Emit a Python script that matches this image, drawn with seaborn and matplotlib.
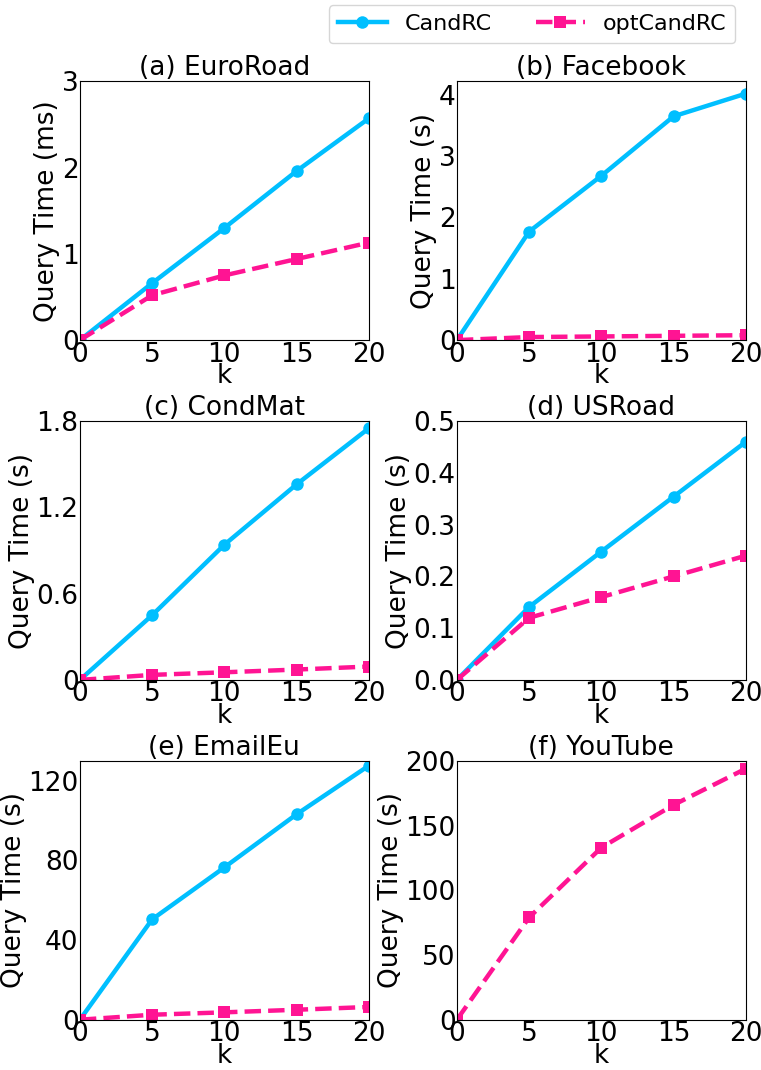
import pandas as pd
import matplotlib
matplotlib.use("Agg")
import matplotlib.pyplot as plt
import seaborn as sns

# Data
k = [0, 5, 10, 15, 20]

euroroad_cand = [0, 0.66, 1.30, 1.96, 2.57]
euroroad_opt = [0, 0.52, 0.75, 0.94, 1.13]
facebook_cand = [0, 1.77, 2.68, 3.65, 4.02]
facebook_opt = [0, 0.05, 0.06, 0.07, 0.08]
condmat_cand = [0, 0.45, 0.94, 1.36, 1.75]
condmat_opt = [0, 0.035, 0.053, 0.072, 0.093]
usroad_cand = [0, 0.141, 0.248, 0.354, 0.46]
usroad_opt = [0, 0.12, 0.16, 0.20, 0.24]
emaileu_cand = [0, 50.4, 76.5, 103.2, 127.6]
emaileu_opt = [0, 2.5, 3.7, 5.0, 6.4]
youtube_opt = [0, 79, 133, 166, 194]

titles = ["(a) EuroRoad", "(b) Facebook", "(c) CondMat",
          "(d) USRoad", "(e) EmailEu", "(f) YouTube"]
ylabels = ["Query Time (ms)", "Query Time (s)", "Query Time (s)",
           "Query Time (s)", "Query Time (s)", "Query Time (s)"]
cand_series = [euroroad_cand, facebook_cand, condmat_cand, usroad_cand, emaileu_cand, None]
opt_series = [euroroad_opt, facebook_opt, condmat_opt, usroad_opt, emaileu_opt, youtube_opt]

ylims = [(0, 3), (0, None), (0, 1.8), (0, 0.5), (0, 130), (0, 200)]
yticks = [[0, 1, 2, 3], [0, 1, 2, 3, 4], [0, 0.6, 1.2, 1.8],
          [0, 0.1, 0.2, 0.3, 0.4, 0.5], [0, 40, 80, 120], [0, 50, 100, 150, 200]]
yticklabels = [None, None, ["0", "0.6", "1.2", "1.8"], None, None, None]

blue = "#00BFFF"
pink = "#FF1493"

fig, axes = plt.subplots(3, 2, figsize=(7.61, 10.7), dpi=100)
fig.subplots_adjust(left=0.105, right=0.98, top=0.924, bottom=0.047,
                    wspace=0.305, hspace=0.313)

for i, ax in enumerate(axes.flat):
    if cand_series[i] is not None:
        df_c = pd.DataFrame({"k": k, "t": cand_series[i]})
        sns.lineplot(data=df_c, x="k", y="t", ax=ax, color=blue, linewidth=3.2,
                     marker="o", markersize=9, markeredgewidth=0, label="CandRC")
    df_o = pd.DataFrame({"k": k, "t": opt_series[i]})
    sns.lineplot(data=df_o, x="k", y="t", ax=ax, color=pink, linewidth=3.2,
                 linestyle="--", marker="s", markersize=8, markeredgewidth=0,
                 label="optCandRC")

    ax.set_xlim(0, 20)
    ax.set_xticks([0, 5, 10, 15, 20])
    ax.set_ylim(*ylims[i])
    ax.set_yticks(yticks[i])
    if yticklabels[i] is not None:
        ax.set_yticklabels(yticklabels[i])
    ax.tick_params(labelsize=19, pad=1, length=0)
    ax.set_title(titles[i], fontsize=19, pad=3)
    ax.set_xlabel("k", fontsize=19, labelpad=-3)
    ax.set_ylabel(ylabels[i], fontsize=19, labelpad=1)
    ax.get_legend().remove()

handles, labels = axes[0, 0].get_legend_handles_labels()
fig.legend(handles, labels, loc="upper right", bbox_to_anchor=(0.966, 0.995),
           ncol=2, fontsize=16, borderaxespad=0, columnspacing=2.0,
           handlelength=2.2, frameon=True)

fig.savefig("out.png", dpi=100)
